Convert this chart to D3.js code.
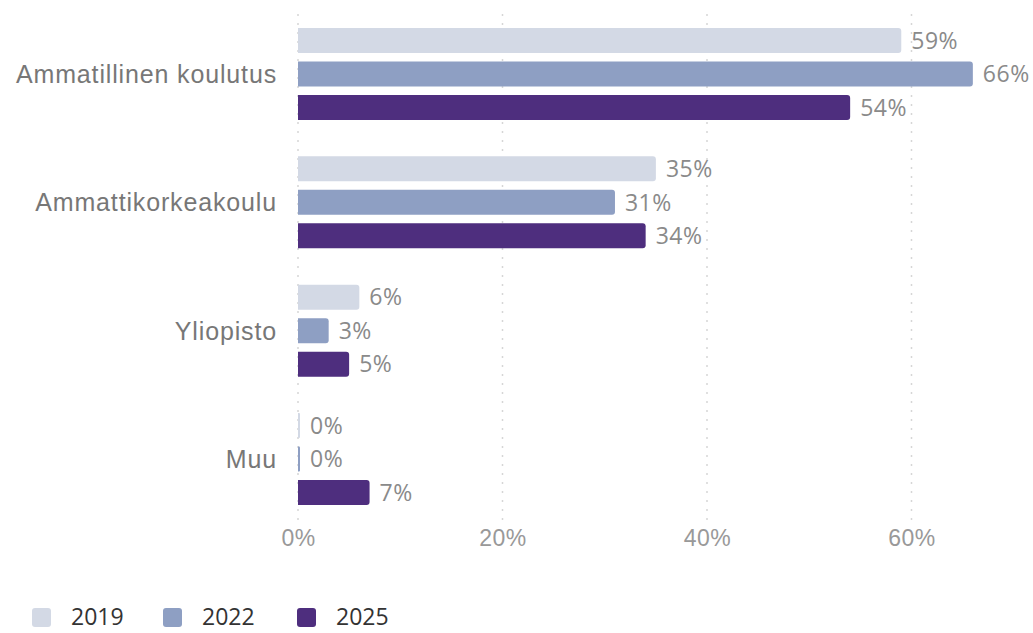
<!DOCTYPE html>
<html>
<head>
<meta charset="utf-8">
<script src="https://cdn.jsdelivr.net/npm/d3@7"></script>
<style>
  html, body { margin: 0; padding: 0; background: #fff; }
  svg { display: block; font-family: "Open Sans", "Noto Sans", sans-serif; }
</style>
</head>
<body>
<svg id="chart" width="1033" height="633"></svg>
<script>
// Share of respondents by education type, per survey year
const categories = ["Ammatillinen koulutus", "Ammattikorkeakoulu", "Yliopisto", "Muu"];
const years = ["2019", "2022", "2025"];
const values2019 = [59, 35, 6, 0];
const values2022 = [66, 31, 3, 0];
const values2025 = [54, 34, 5, 7];
const xTicks = [0, 20, 40, 60];
const colors = ["#d3d9e5", "#8e9fc3", "#4e2e7e"];

const seriesValues = [values2019, values2022, values2025];

const svg = d3.select("#chart");

const x = d3.scaleLinear()
  .domain([0, 60])
  .range([298, 911.5]);

const y0 = d3.scaleBand()
  .domain(categories)
  .range([15.2, 517.8])
  .paddingInner(0.283)
  .paddingOuter(0.1);

const y1 = d3.scaleBand()
  .domain(years)
  .range([0, y0.bandwidth()])
  .paddingInner(0.254);

// dotted vertical gridlines
svg.append("g")
  .selectAll("line")
  .data(xTicks)
  .join("line")
  .attr("x1", d => x(d)).attr("x2", d => x(d))
  .attr("y1", 14).attr("y2", 521)
  .attr("stroke", "#d6d6d6")
  .attr("stroke-width", 1.5)
  .attr("stroke-dasharray", "2,7");

// x axis tick labels
const xAxis = d3.axisBottom(x)
  .tickValues(xTicks)
  .tickFormat(d => d + "%")
  .tickSize(0)
  .tickPadding(0);
const gx = svg.append("g")
  .attr("transform", "translate(0,538)")
  .call(xAxis);
gx.select(".domain").remove();
gx.selectAll("text")
  .attr("fill", "#999")
  .attr("font-size", 23)
  .attr("letter-spacing", 0.5)
  .attr("dy", "0.36em");

// category labels
const yAxis = d3.axisLeft(y0).tickSize(0).tickPadding(21);
const gy = svg.append("g")
  .attr("transform", `translate(${x(0)},0)`)
  .call(yAxis);
gy.select(".domain").remove();
gy.selectAll("text")
  .attr("fill", "#777")
  .attr("font-size", 25)
  .attr("letter-spacing", 0.85)
  .attr("dy", "0.36em");

// bars
const rows = [];
categories.forEach((c, i) => {
  years.forEach((yr, j) => {
    rows.push({ cat: c, year: yr, value: seriesValues[j][i], color: colors[j] });
  });
});

const groups = svg.append("g");
const barW = d => Math.max(2, x(d.value) - x(0));

groups.selectAll("path.bar")
  .data(rows)
  .join("path")
  .attr("class", "bar")
  .attr("fill", d => d.color)
  .attr("d", d => {
    const x0 = x(0);
    const yy = y0(d.cat) + y1(d.year);
    const h = y1.bandwidth();
    const w = barW(d);
    const r = Math.min(3, w / 2);
    return `M${x0},${yy} H${x0 + w - r} Q${x0 + w},${yy} ${x0 + w},${yy + r} ` +
           `V${yy + h - r} Q${x0 + w},${yy + h} ${x0 + w - r},${yy + h} H${x0} Z`;
  });

// value labels
groups.selectAll("text.val")
  .data(rows)
  .join("text")
  .attr("class", "val")
  .attr("x", d => x(0) + barW(d) + 10)
  .attr("y", d => y0(d.cat) + y1(d.year) + y1.bandwidth() / 2)
  .attr("dy", "0.36em")
  .attr("fill", "#8a8a8a")
  .attr("font-size", 23)
  .attr("letter-spacing", 0.5)
  .text(d => d.value + "%");

// legend
const legendX = [32, 163, 297];
const legend = svg.append("g");
const li = legend.selectAll("g")
  .data(years)
  .join("g")
  .attr("transform", (d, i) => `translate(${legendX[i]},608)`);
li.append("rect")
  .attr("width", 19).attr("height", 19)
  .attr("rx", 3)
  .attr("fill", (d, i) => colors[i]);
li.append("text")
  .attr("x", 39).attr("y", 9)
  .attr("dy", "0.36em")
  .attr("fill", "#333")
  .attr("font-size", 23)
  .text(d => d);
</script>
</body>
</html>
